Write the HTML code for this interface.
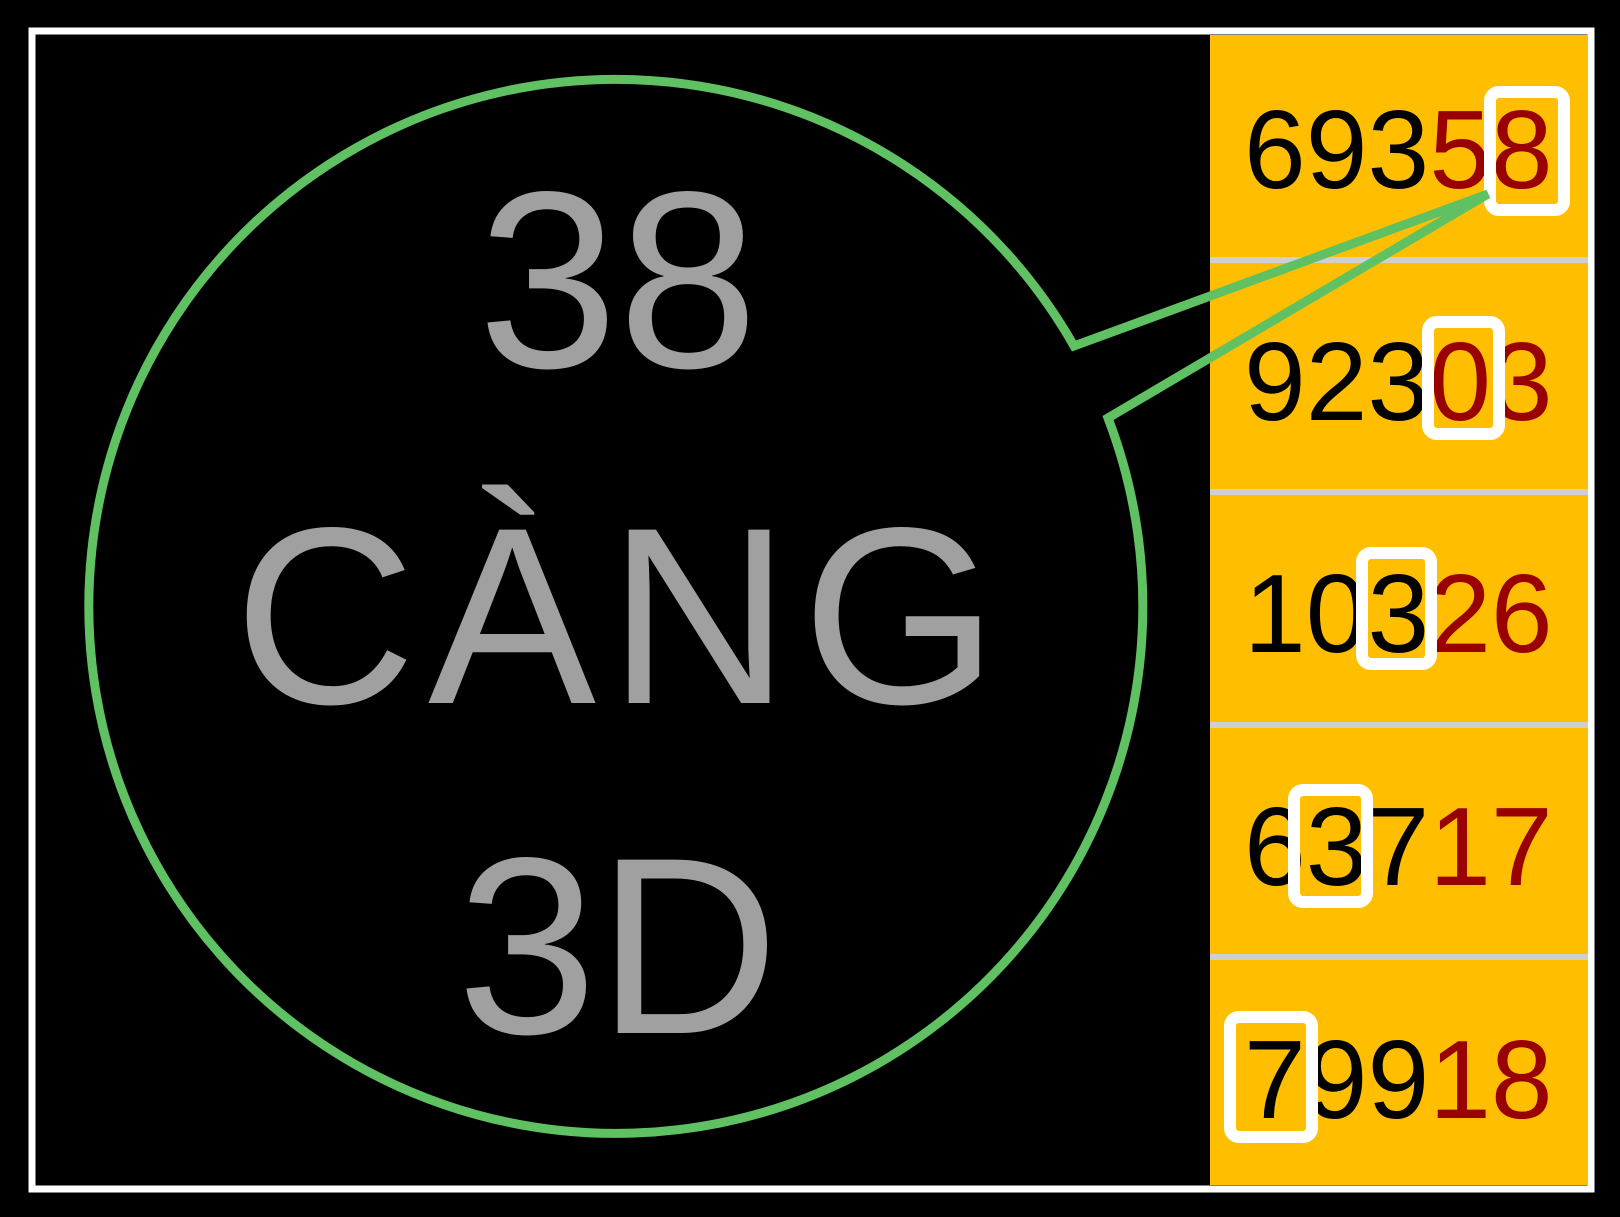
<!DOCTYPE html>
<html><head><meta charset="utf-8"><style>html,body{margin:0;padding:0;background:#000;}svg{display:block}</style></head>
<body>
<svg width="1620" height="1217" viewBox="0 0 1620 1217" xmlns="http://www.w3.org/2000/svg">
<rect width="1620" height="1217" fill="#000"/>
<rect x="32" y="31" width="1559" height="1158" fill="#000" stroke="#fff" stroke-width="7"/>
<rect x="1210" y="35" width="378" height="1150" fill="#ffbf00"/>
<g fill="#cfcfcf">
<rect x="1210" y="257" width="378" height="6"/>
<rect x="1210" y="489" width="378" height="6"/>
<rect x="1210" y="722" width="378" height="6"/>
<rect x="1210" y="954" width="378" height="6"/>
</g>
<g font-family="Liberation Sans, sans-serif" font-size="111" fill="#000">
<text x="1244" y="188">693<tspan fill="#990000">58</tspan></text>
<text x="1244" y="420">923<tspan fill="#990000">03</tspan></text>
<text x="1244" y="652">103<tspan fill="#990000">26</tspan></text>
<text x="1244" y="885">637<tspan fill="#990000">17</tspan></text>
<text x="1244" y="1118">799<tspan fill="#990000">18</tspan></text>
</g>
<g fill="none" stroke="#fff" stroke-width="12">
<rect x="1490" y="92" width="74" height="118" rx="9"/>
<rect x="1428" y="322" width="71" height="112" rx="9"/>
<rect x="1362" y="553" width="69" height="111" rx="9"/>
<rect x="1294" y="790" width="73" height="112" rx="9"/>
<rect x="1230" y="1017" width="82" height="120" rx="9"/>
</g>
<path d="M1074,346 A527,527 0 1 0 1108,418 L1488,194 Z" fill="none" stroke="#5fc162" stroke-width="9" stroke-linejoin="miter"/>
<g font-family="Liberation Sans, sans-serif" font-size="252" fill="#a0a0a0" text-anchor="middle">
<text x="618" y="367">38</text>
<text x="622" y="703" letter-spacing="12">CÀNG</text>
<text x="618" y="1033">3D</text>
</g>
</svg>
</body></html>
